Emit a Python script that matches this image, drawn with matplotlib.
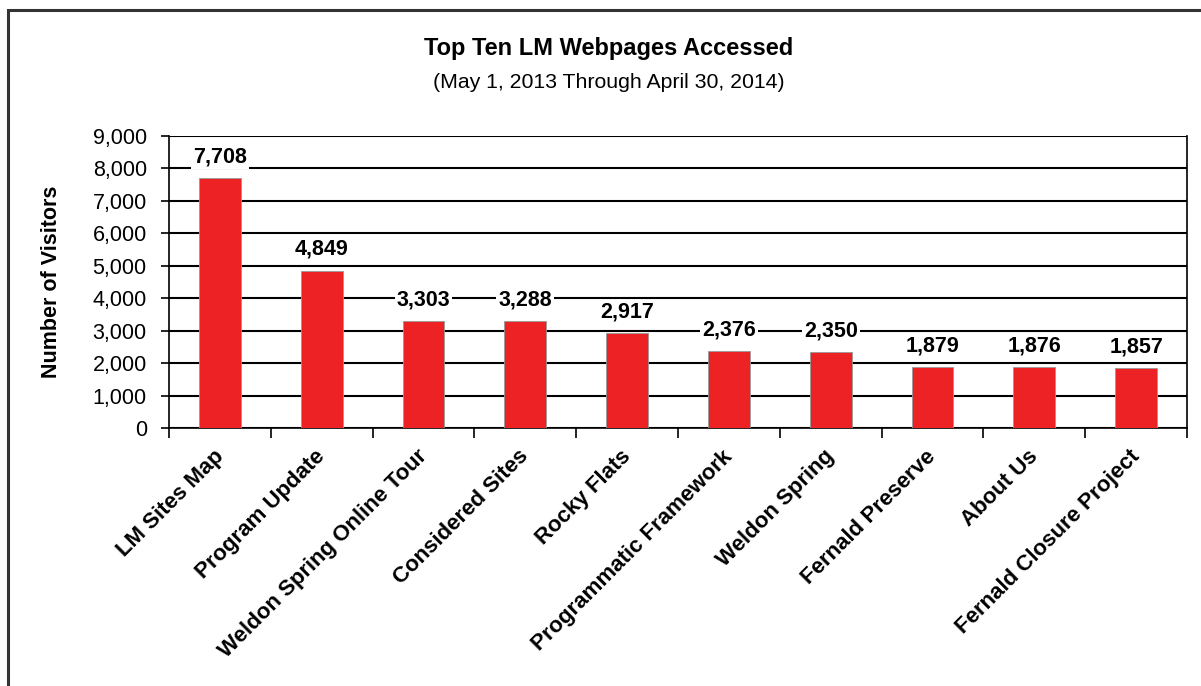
import matplotlib
matplotlib.use("Agg")
import matplotlib.pyplot as plt
from matplotlib.patches import Rectangle
from matplotlib.ticker import FuncFormatter, MultipleLocator
from matplotlib.transforms import ScaledTranslation, blended_transform_factory

categories = ["LM Sites Map", "Program Update", "Weldon Spring Online Tour",
              "Considered Sites", "Rocky Flats", "Programmatic Framework",
              "Weldon Spring", "Fernald Preserve", "About Us",
              "Fernald Closure Project"]
visitors = [7708, 4849, 3303, 3288, 2917, 2376, 2350, 1879, 1876, 1857]

plt.rcParams['font.family'] = ['Liberation Sans', 'DejaVu Sans']

fig = plt.figure(figsize=(12.01, 6.86), dpi=100)
W, H = 1201, 686
# outer frame
fig.patches.append(Rectangle((8 / W, -0.1), 1.2, 1 - 10 / H + 0.1,
                             transform=fig.transFigure, fill=False,
                             edgecolor='#333333', linewidth=2.2))

left, right, top, bottom = 169, 1187, 136, 428
ax = fig.add_axes([left / W, 1 - bottom / H, (right - left) / W, (bottom - top) / H])

x = list(range(len(categories)))
ax.bar(x, visitors, width=0.41, color='#ED2224', edgecolor='#999999', linewidth=0.6, zorder=3)
ax.set_xlim(-0.5, len(categories) - 0.5)
ax.set_ylim(0, 9000)
ax.yaxis.set_major_locator(MultipleLocator(1000))
ax.yaxis.set_major_formatter(FuncFormatter(lambda v, p: f"{int(v):,}"))
ax.grid(axis='y', color='black', linewidth=1.5, zorder=1)
for s in ax.spines.values():
    s.set_color('black')
    s.set_linewidth(1.2)
ax.spines['top'].set_visible(False)

ax.set_xticks([i - 0.5 for i in range(len(categories) + 1)])
ax.set_xticklabels([])
ax.tick_params(axis='x', which='major', length=7, width=1.2, direction='out')
ax.tick_params(axis='y', length=6, width=1.2, labelsize=15.5, pad=10)

trans = blended_transform_factory(ax.transData, ax.transAxes) + \
    ScaledTranslation(-7 / 100, -18 / 100, fig.dpi_scale_trans)
for i, c in enumerate(categories):
    ax.text(i, 0, c, transform=trans, rotation=45, ha='right', va='top',
            rotation_mode='anchor', fontsize=16, fontweight='bold', clip_on=False)

for i, v in enumerate(visitors):
    ax.text(i, v + 330, f"{v:,}", ha='center', va='bottom', fontsize=15.5, fontweight='bold',
            zorder=5, bbox=dict(facecolor='white', edgecolor='none', pad=1.5))

ax.set_ylabel("Number of Visitors", fontsize=15.5, fontweight='bold', labelpad=22)

fig.text(609 / W, 1 - 49 / H, "Top Ten LM Webpages Accessed",
         ha='center', va='center', fontsize=17, fontweight='bold')
fig.text(609 / W, 1 - 82 / H, "(May 1, 2013 Through April 30, 2014)",
         ha='center', va='center', fontsize=15.3)

fig.savefig("out.png", dpi=100)
